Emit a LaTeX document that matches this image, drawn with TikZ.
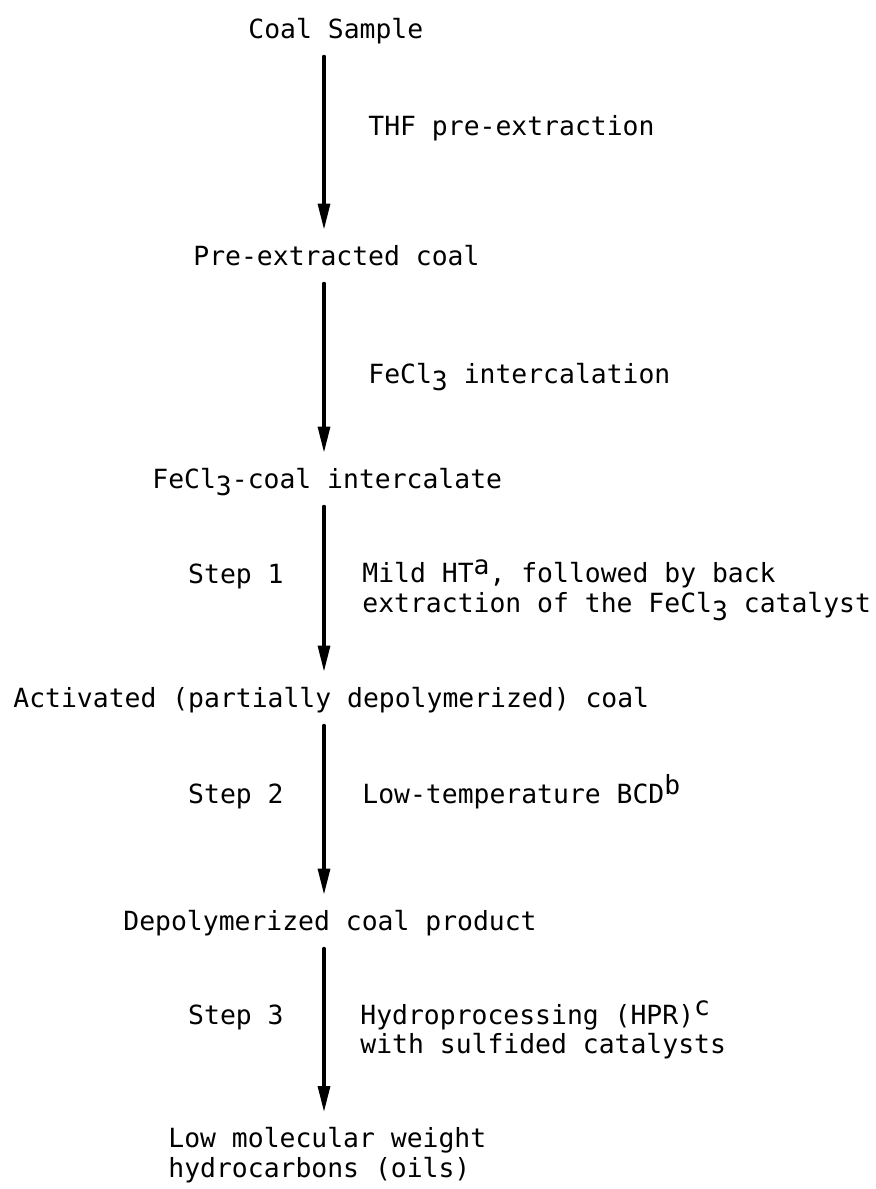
\documentclass[tikz,border=0pt]{standalone}
\usepackage{fontspec}
\setmonofont{DejaVu Sans Mono}
\usetikzlibrary{arrows.meta}
\newcommand{\lowered}[1]{\raisebox{-0.3em}{#1}}
\newcommand{\raised}[1]{\raisebox{0.32em}{#1}}

\begin{document}
\begin{tikzpicture}[x=0.5pt,y=-0.5pt]
\tikzstyle{every node}=[font=\ttfamily\fontsize{13.2}{14.8}\selectfont, inner sep=0pt]
\tikzstyle{stage}=[anchor=west, text height=10pt, text depth=3pt]
\tikzstyle{lastage}=[anchor=north west, align=left]
\tikzstyle{cond}=[anchor=west, align=left]
\tikzstyle{steplabel}=[anchor=east, text height=10pt, text depth=3pt]
\tikzstyle{flow}=[line width=1.6pt, line cap=round, -{Triangle[length=13pt,width=6pt]}, shorten <=6pt, shorten >=7.5pt]

\useasboundingbox (0,0) rectangle (875,1189);
\coordinate (spine) at (324,0);

% Add nodes
\node[stage] (coal) at (248,31) {Coal Sample};
\node[stage] (pre) at (193,258) {Pre-extracted coal};
\node[stage] (inter) at (152,481) {FeCl\lowered{3}-coal intercalate};
\node[stage] (act) at (13,700) {Activated (partially depolymerized) coal};
\node[stage] (depol) at (123,923) {Depolymerized coal product};
\node[lastage] (oils) at (168,1127) {Low molecular weight\\hydrocarbons (oils)};

% Conditions
\node[cond, text height=10pt, text depth=3pt] (thf) at (368,128) {THF pre-extraction};
\node[cond, text height=10pt, text depth=3pt] (fecl) at (368,376) {FeCl\lowered{3} intercalation};
\node[cond] (mild) at (362,590) {Mild HT\raised{a}, followed by back\\extraction of the FeCl\lowered{3} catalyst};
\node[cond, text height=10pt, text depth=3pt] (bcd) at (362,796) {Low-temperature BCD\raised{b}};
\node[cond] (hpr) at (360,1030) {Hydroprocessing (HPR)\raised{c}\\with sulfided catalysts};

% Step labels
\node[steplabel] (s1) at (284,576) {Step 1};
\node[steplabel] (s2) at (284,796) {Step 2};
\node[steplabel] (s3) at (284,1017) {Step 3};

% Draw arrows
\draw[flow] (coal.south -| spine) -- (pre.north -| spine);
\draw[flow] (pre.south -| spine) -- (inter.north -| spine);
\draw[flow] (inter.south -| spine) -- (act.north -| spine);
\draw[flow] (act.south -| spine) -- (depol.north -| spine);
\draw[flow] (depol.south -| spine) -- (oils.north -| spine);

\end{tikzpicture}
\end{document}
